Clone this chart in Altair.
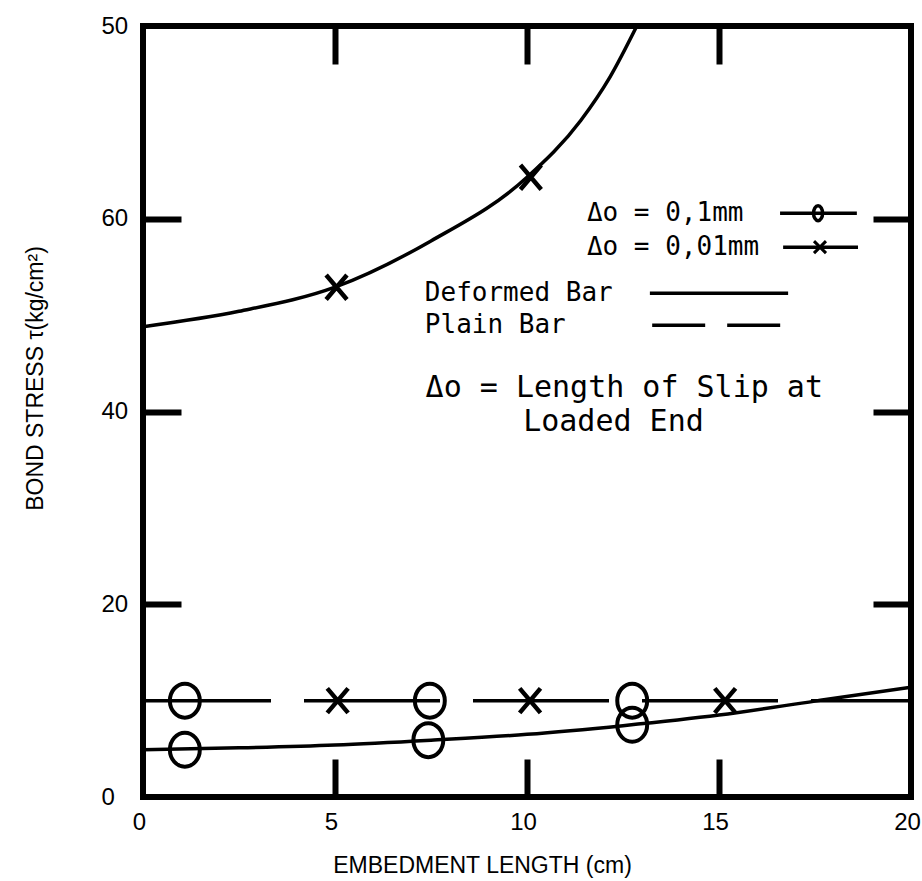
import altair as alt
import pandas as pd

# ---------------- data ----------------
# Deformed bar, slip 0.01 mm : fitted curve and measured points (x markers)
def01_curve_x = [0, 2.5, 5, 7.5, 10, 11.4, 12.16, 12.86]
def01_curve_y = [48.8, 50.4, 52.9, 57.7, 64.3, 70.2, 74.7, 80]
def01_pts_x = [5.04, 10.1]
def01_pts_y = [52.9, 64.3]

# Deformed bar, slip 0.1 mm : fitted curve and measured points (circles)
def1_curve_x = [0, 2.5, 5, 7.5, 10, 12.5, 15, 17.5, 20]
def1_curve_y = [4.9, 5.1, 5.4, 5.9, 6.5, 7.4, 8.5, 9.95, 11.4]
def1_pts_x = [1.09, 7.43, 12.74]
def1_pts_y = [4.9, 5.9, 7.5]

# Plain bar (dashed line) and its points
plain_line_x = [0, 20]
plain_line_y = [10, 10]
plain1_pts_x = [1.09, 7.47, 12.74]
plain1_pts_y = [10, 10, 10]
plain01_pts_x = [5.07, 10.08, 15.16]
plain01_pts_y = [10, 10, 10]

# axis ticks / labels
x_label_values = [0, 5, 10, 15, 20]
x_tick_values = [5, 10, 15]
y_label_values = [0, 20, 40, 60, 80]
y_tick_values = [20, 40, 60]

# legend / note texts
legend_texts = ["Δo = 0,1mm", "Δo = 0,01mm", "Deformed Bar", "Plain Bar"]
note_texts = ["Δo = Length of Slip at", "Loaded End"]

# ---------------- annotation placement (data units) ----------------
legend_text_x = [11.56, 11.56, 7.34, 7.34]
legend_text_y = [60.58, 57.05, 52.28, 48.96]
note_x = [7.36, 9.9]
note_y = [42.43, 38.9]

def df(xs, ys):
    return pd.DataFrame({"x": xs, "y": ys})

xscale = alt.Scale(domain=[0, 20], nice=False, zero=False)
yscale = alt.Scale(domain=[0, 80], nice=False, zero=False)

LABEL_FONT = "Liberation Sans"
TEXT_FONT = "DejaVu Sans Mono"

ax_x_labels = alt.Axis(orient="bottom", values=x_label_values, ticks=False, domain=False,
                       grid=False, labelPadding=13, labelFontSize=24, labelFont=LABEL_FONT,
                       labelBaseline="top", labelOffset=-4, labelFlush=False, labelOverlap=False,
                       labelColor="black",
                       title="EMBEDMENT LENGTH (cm)", titleX=339, titleY=68,
                       titleAlign="center", titleBaseline="middle", titleAngle=0,
                       titleFontSize=23, titleFont=LABEL_FONT, titleFontWeight="normal",
                       titleColor="black")
ax_x_ticks_bottom = alt.Axis(orient="bottom", values=x_tick_values, offset=-38, tickSize=38,
                             tickWidth=6, tickColor="black", labels=False, domain=False,
                             grid=False, title=None)
ax_x_ticks_top = alt.Axis(orient="top", values=x_tick_values, offset=-38, tickSize=38,
                          tickWidth=6, tickColor="black", labels=False, domain=False,
                          grid=False, title=None)
ax_y_labels = alt.Axis(orient="left", values=y_label_values, ticks=False, domain=False,
                       grid=False, labelExpr="datum.value == 80 ? '50' : datum.label",
                       labelAlign="left", labelPadding=42, labelBaseline="middle",
                       labelFontSize=24, labelFont=LABEL_FONT, labelColor="black",
                       labelOverlap=False, labelFlush=False,
                       title="BOND STRESS τ(kg/cm²)", titleX=-108, titleY=352, titleAngle=270,
                       titleAlign="center", titleBaseline="middle", titleFontSize=23,
                       titleFont=LABEL_FONT, titleFontWeight="normal", titleColor="black")
ax_y_ticks_left = alt.Axis(orient="left", values=y_tick_values, offset=-38, tickSize=38,
                           tickWidth=6, tickColor="black", labels=False, domain=False,
                           grid=False, title=None)
ax_y_ticks_right = alt.Axis(orient="right", values=y_tick_values, offset=-38, tickSize=38,
                            tickWidth=6, tickColor="black", labels=False, domain=False,
                            grid=False, title=None)


def enc(xaxis=None, yaxis=None):
    return dict(
        x=alt.X("x:Q", scale=xscale, axis=xaxis),
        y=alt.Y("y:Q", scale=yscale, axis=yaxis),
    )

ellipse = "M0,-1A0.88,1 0 1,1 0,1A0.88,1 0 1,1 0,-1Z"
small_ellipse = "M0,-1A0.6,1 0 1,1 0,1A0.6,1 0 1,1 0,-1Z"
xshape = "M-0.85,-1L0.85,1M-0.85,1L0.85,-1"

line_def01 = alt.Chart(df(def01_curve_x, def01_curve_y)).mark_line(
    color="black", strokeWidth=3.5, interpolate="monotone", clip=True
).encode(**enc(ax_x_labels, ax_y_labels))

line_def1 = alt.Chart(df(def1_curve_x, def1_curve_y)).mark_line(
    color="black", strokeWidth=3.5, interpolate="monotone", clip=True
).encode(**enc(ax_x_ticks_bottom, ax_y_ticks_left))

line_plain = alt.Chart(df(plain_line_x, plain_line_y)).mark_line(
    color="black", strokeWidth=3.5, strokeDash=[136, 33], strokeDashOffset=8, clip=True
).encode(**enc(ax_x_ticks_top, ax_y_ticks_right))

def circles(xs, ys):
    return alt.Chart(df(xs, ys)).mark_point(
        shape=ellipse, size=1156, filled=False, stroke="black", strokeWidth=4, opacity=1
    ).encode(**enc())

def crosses(xs, ys):
    return alt.Chart(df(xs, ys)).mark_point(
        shape=xshape, size=600, filled=False, stroke="black", strokeWidth=4.5, opacity=1
    ).encode(**enc())

pts = [
    circles(def1_pts_x, def1_pts_y),
    circles(plain1_pts_x, plain1_pts_y),
    crosses(def01_pts_x, def01_pts_y),
    crosses(plain01_pts_x, plain01_pts_y),
]

# ---------------- legend / note ----------------
leg_text = alt.Chart(pd.DataFrame({"t": legend_texts, "x": legend_text_x, "y": legend_text_y})).mark_text(
    align="left", baseline="middle", font=TEXT_FONT, fontSize=26, color="black"
).encode(text="t:N", **enc())

note_text = alt.Chart(pd.DataFrame({"t": note_texts, "x": note_x, "y": note_y})).mark_text(
    align="left", baseline="middle", font=TEXT_FONT, fontSize=30, color="black"
).encode(text="t:N", **enc())

leg_solid = pd.DataFrame({"x": [16.59, 16.67, 13.2], "x2": [18.59, 18.62, 16.8],
                          "y": [60.58, 57.05, 52.28]})
leg_rules = alt.Chart(leg_solid).mark_rule(color="black", strokeWidth=3.5).encode(
    x=alt.X("x:Q", scale=xscale, axis=None), x2="x2:Q",
    y=alt.Y("y:Q", scale=yscale, axis=None))

leg_dash = pd.DataFrame({"x": [13.26], "x2": [16.8], "y": [48.96]})
leg_dash_rule = alt.Chart(leg_dash).mark_rule(color="black", strokeWidth=3.5,
                                              strokeDash=[53, 22]).encode(
    x=alt.X("x:Q", scale=xscale, axis=None), x2="x2:Q",
    y=alt.Y("y:Q", scale=yscale, axis=None))

leg_circle = alt.Chart(df([17.58], [60.58])).mark_point(
    shape=small_ellipse, size=225, filled=False, stroke="black", strokeWidth=3.5, opacity=1
).encode(**enc())
leg_cross = alt.Chart(df([17.63], [57.05])).mark_point(
    shape="M-1,-1L1,1M-1,1L1,-1", size=144, filled=False, stroke="black", strokeWidth=3, opacity=1
).encode(**enc())

chart = alt.layer(
    line_def01, line_def1, line_plain, *pts,
    leg_text, note_text, leg_rules, leg_dash_rule, leg_circle, leg_cross
).resolve_axis(
    x="independent", y="independent"
).properties(
    width=768, height=771,
    padding={"left": 143, "top": 26, "right": 11, "bottom": 84},
    autosize=alt.AutoSizeParams(type="none"),
    background="white",
).configure_view(
    stroke="black", strokeWidth=6
).configure_axis(
    grid=False
)

chart.save("out.html", embed_options={"renderer": "svg", "actions": False})
